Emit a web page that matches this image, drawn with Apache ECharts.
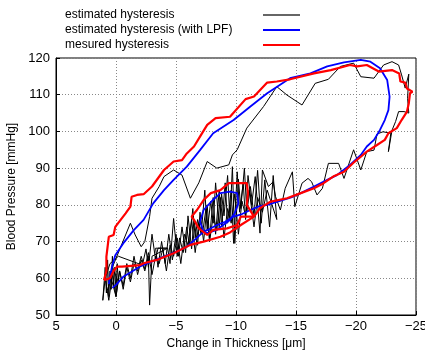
<!DOCTYPE html>
<html><head><meta charset="utf-8">
<script src="https://cdn.jsdelivr.net/npm/echarts@6/dist/echarts.min.js"></script>
<style>html,body{margin:0;padding:0;background:#fff}#c{width:425px;height:350px}</style>
</head><body><div id="c"></div>
<script>
const seriesNames = ['estimated hysteresis', 'estimated hysteresis (with LPF)', 'mesured hysteresis'];
const xTicks = [5, 0, -5, -10, -15, -20, -25];
const yTicks = [50, 60, 70, 80, 90, 100, 110, 120];

const estimated = [
[0.9,60],[1.1,54],[0.9,63],[0.8,56],[0.7,65],[0.6,55],[0.5,62],[0.4,57],[0.3,66],[0.2,58],[0.1,63],[0.0,56],[-0.1,64],[-0.2,59],[0.3,63],
[-1.2,75],[-1.6,71.8],[-2.1,68.6],[-2.4,70],[-2.8,76.8],[-3.0,81.8],[-3.6,85],[-4.0,87.7],[-4.8,89.5],[-5.5,88.1],[-6.2,81.8],[-6.9,86],[-7.6,91.8],[-8.4,90],[-9.4,90.9],[-9.7,93.6],[-10.1,95],[-10.9,100.9],[-12.3,106.8],[-13.4,112.2],[-14.25,109.9],[-15.5,107.2],[-16.6,113.1],[-17.7,114.2],[-18.7,117.7],[-19.8,118.6],[-20.4,114.9],[-21.5,114.5],[-21.9,116.3],[-22.3,118.1],[-23.0,119],[-23.55,118.1],[-23.8,115.4],[-24.1,111.8],[-24.4,115.6],[-24.3,109],[-24.4,105],[-24.0,105.4],[-23.55,105.4],[-23.3,102.7],[-23.0,100.3],[-22.7,94.5],[-22.9,99.5],[-22.25,99.9],[-21.75,99.3],[-21.5,94.9],[-20.9,94.5],[-20.4,89.5],[-19.8,95],[-19.0,87.2],[-18.55,91.3],[-17.7,91.3],[-17.2,84.5],[-16.75,82.7],[-16.3,86.3],[-16.0,87.2],[-15.5,85.9],[-14.9,79.5],[-14.7,89],[-14.1,84.5],[-13.7,78.6],[-13.3,82.2],[-13.1,86.3],[-12.7,85],[-12.2,89.5],[-12.0,72.3],[-11.6,87.7],[-11.3,80],[-11.0,88],[-10.8,76],[-10.6,86],[-10.3,78],[-10.1,89],[-9.8,69.5],[-9.6,84],[-9.3,75],[-9.1,86],[-8.8,74],[-8.6,84],[-8.3,72],[-8.1,82],[-7.8,71],[-7.6,80],[-7.3,70],[-7.0,78],[-6.8,69],[-6.5,76],[-6.3,68],[-6.0,77],[-5.8,67],[-5.5,74],[-5.2,66],[-5.0,72],[-4.7,65],[-4.4,72],[-4.1,64],[-3.8,70],[-3.5,63],[-3.3,68.2],[-4.3,68.2],[-3.0,66],[-2.8,52.7],[-2.7,66],[-2.4,62],[-2.1,65],[-1.8,61],[-1.5,66],[-1.2,60],[-0.9,64],[-0.6,58],[-0.3,62],[0.0,55],[0.3,61],[0.6,54],[0.9,60],
[0.5,64],[-0.2,66],[-2.2,63.6],[-2.5,68],[-2.7,63],[-3.0,72],[-3.3,65],[-3.5,68.2],[-4.3,68.2],[-4.5,64],[-4.8,76.3],[-5.1,66],[-5.3,71],[-5.6,67],[-5.9,74],[-6.1,69],[-6.4,79],[-6.6,71],[-6.8,76],[-7.1,72],[-7.4,84],[-7.6,73],[-7.9,81],[-8.1,75],[-8.3,86],[-8.6,74],[-8.8,83],[-9.0,77],[-9.3,88],[-9.5,76],[-9.7,90.4],[-9.9,69.5],[-10.2,87],[-10.4,79],[-10.7,90],[-10.9,78],[-11.2,85],[-11.5,77],[-11.8,89.4],[-12.1,75],[-12.4,86.8],[-12.8,74],[-13.1,88],[-13.4,76],
[-13.0,80],[-12.6,84],[-12.2,78],[-11.8,82],[-11.5,74],[-11.1,84],[-10.8,77],[-10.5,81],[-10.2,72],[-9.9,83],[-9.6,75],[-9.3,79],[-9.0,71],[-8.7,82],[-8.4,73],[-8.1,77],[-7.8,70],[-7.5,79],[-7.2,72],[-6.9,75],[-6.6,67],[-6.3,76],[-6.0,69],[-5.7,72],[-5.4,64],[-5.1,71],[-4.8,66],[-4.5,69],[-4.2,62],[-3.9,68],[-3.6,64],[-3.3,66],[-3.0,61],[-2.7,67],[-2.4,62.5],[-2.1,66],[-1.8,62],[-1.5,64],[-1.2,59],[-0.9,63],[-0.6,57],[-0.3,62],[0.0,55],[0.4,60],[0.8,56]
];

const lpfMain = [
[0.6,58.4],[0.5,60.4],[0.33,63.2],[0.06,66.3],[-0.6,69.5],[-1.5,73.2],[-2.3,75.9],[-3.1,80.4],[-4.0,84],[-4.8,86.8],[-5.9,90.4],[-7.0,94.9],[-8.1,99.5],[-9.8,103.1],[-11.2,106.8],[-12.6,110.4],[-14.5,114.5],[-16.2,115.8],[-17.6,117.7],[-19.0,118.8],[-20.4,119.5],[-21.2,119],[-22.0,117.2],[-22.6,114],[-22.8,109.5],[-22.7,105.8],[-22.4,103.1],[-22.0,100.4],[-21.5,97.7],[-20.9,95.9],[-20.4,93.6],[-19.5,90.9],[-18.4,88.1],[-17.6,86.8],[-16.5,85],[-15.4,83.2],[-14.6,82],[-14.0,81.4],[-13.2,80.6],[-12.6,80],[-11.9,79.6],[-11.2,78.6],[-10.5,77.5],[-9.8,76.8],[-9.1,75.4],[-8.4,74.5],[-7.8,73.4],[-7.3,72.7],[-6.6,70.6],[-5.9,68.6],[-5.0,67.2],[-4.0,65.9],[-3.0,64.6],[-2.0,63.2],[-1.3,61.8],[-0.6,60.4],[0.0,58.2],[0.3,57.4]
];
const lpfInner = [
[-7.3,72.7],[-7.0,75.4],[-7.3,78.6],[-8.1,81.4],[-8.7,83.2],[-9.5,83.6],[-10.1,83.2],[-10.2,80.4],[-9.9,77.8],[-9.5,75.9],[-8.4,73.2],[-7.6,72.3],[-7.3,72.7]
];

const measuredMain = [
[1.0,59.5],[0.8,62],[0.8,65.9],[0.6,71.3],[0.2,71.8],[0.06,74],[-0.8,77.7],[-1.2,79.5],[-1.3,82.2],[-1.75,82.7],[-2.3,82.9],[-3.0,85],[-4.0,89.5],[-4.8,91.8],[-5.5,92.2],[-5.9,94],[-6.5,95.9],[-7.0,98.6],[-7.6,101.8],[-8.3,103.6],[-9.5,104],[-10.8,108.8],[-11.5,109.5],[-12.6,113.3],[-13.4,113.6],[-14.5,114.2],[-16.5,115.8],[-17.9,116.7],[-19.5,118.1],[-20.1,117.7],[-20.9,118.1],[-21.9,116.3],[-23.0,116.7],[-23.6,115.8],[-23.7,113.6],[-24.1,113.3],[-24.25,111.7],[-24.7,110.8],[-24.5,110.4],[-24.4,107.7],[-24.25,105.4],[-23.8,103.1],[-23.4,100.9],[-22.7,99.5],[-22.4,97.7],[-21.75,96.3],[-20.9,94.5],[-20.4,93.1],[-19.9,91.8],[-19.0,89],[-18.1,87.7],[-17.3,85.9],[-16.5,84.5],[-15.4,83.2],[-14.25,81.8],[-12.9,80.9],[-12.0,79.1],[-11.5,76.8],[-10.4,74.5],[-9.5,72.5],[-8.7,71.3],[-7.3,70],[-6.2,69.1],[-4.8,66.8],[-3.4,65],[-2.3,64.1],[-2.0,63.6],[-0.5,63.2],[-0.1,63.2],[0.2,62],[0.5,60],[1.0,59.5]
];
const measuredInner = [
[-11.5,76.8],[-10.9,80],[-11.0,83.2],[-10.9,85.9],[-9.8,85.9],[-9.4,85.9],[-8.7,84],[-7.9,83.2],[-7.3,81.3],[-6.75,78.6],[-6.3,76.8],[-6.5,75.9],[-6.9,73.6],[-7.6,71.8],[-8.1,73.2],[-9.25,73.6],[-10.1,74.5],[-10.4,76.8],[-11.5,76.8]
];

const chart = echarts.init(document.getElementById('c'), null, {renderer: 'canvas'});
const fmt = v => v < 0 ? '\u2212' + (-v) : String(v);
const font = 'Liberation Sans, Arial, sans-serif';
const gridLine = {show: true, lineStyle: {color: '#888', type: [1, 2], width: 1}};
const mk = (name, data, color, width, z) => ({
  name, type: 'line', data, showSymbol: false, symbol: 'none', z,
  lineStyle: {color, width}, itemStyle: {color}, animation: false
});
chart.setOption({
  animation: false,
  textStyle: {fontFamily: font},
  grid: {left: 56, right: 9, top: 58, bottom: 35, show: true, borderColor: '#000', borderWidth: 1,
    outerBoundsMode: 'none', containLabel: false},
  legend: {
    orient: 'vertical', left: 65, top: 8, padding: 0, itemGap: 1,
    align: 'right', icon: 'rect', itemWidth: 37, itemHeight: 2,
    formatter: n => '{t|' + n + '}',
    textStyle: {fontFamily: font, fontSize: 12, color: '#000', lineHeight: 14,
      rich: {t: {width: 193, align: 'left', fontFamily: font, fontSize: 12, color: '#000', lineHeight: 14}}},
    data: [
      {name: seriesNames[0], itemStyle: {color: '#666'}},
      {name: seriesNames[1], itemStyle: {color: '#0000ff'}},
      {name: seriesNames[2], itemStyle: {color: '#ff0000'}}
    ]
  },
  xAxis: {
    type: 'value', inverse: true,
    min: xTicks[xTicks.length - 1], max: xTicks[0], interval: 5,
    name: 'Change in Thickness [\u03bcm]', nameLocation: 'middle', nameGap: 17,
    nameTextStyle: {fontFamily: font, fontSize: 12, color: '#000'},
    axisLine: {show: true, onZero: false, lineStyle: {color: '#000', width: 1}},
    axisTick: {show: true, inside: true, length: 4, lineStyle: {color: '#000'}},
    axisLabel: {formatter: fmt, fontFamily: font, fontSize: 13, color: '#000', margin: 5},
    splitLine: gridLine
  },
  yAxis: {
    type: 'value', min: yTicks[0], max: yTicks[yTicks.length - 1], interval: 10,
    name: 'Blood Pressure [mmHg]', nameLocation: 'middle', nameGap: 32, nameRotate: 90,
    nameTextStyle: {fontFamily: font, fontSize: 12, color: '#000'},
    axisLine: {show: true, onZero: false, lineStyle: {color: '#000', width: 1}},
    axisTick: {show: true, inside: true, length: 4, lineStyle: {color: '#000'}},
    axisLabel: {fontFamily: font, fontSize: 13, color: '#000', margin: 6},
    splitLine: gridLine
  },
  series: [
    mk(seriesNames[0], estimated, '#000', 1, 2),
    mk(seriesNames[1], lpfMain, '#0000ff', 1.8, 3),
    mk(seriesNames[1], lpfInner, '#0000ff', 1.8, 3),
    mk(seriesNames[2], measuredMain, '#ff0000', 2.2, 4),
    mk(seriesNames[2], measuredInner, '#ff0000', 2.2, 4)
  ]
});
</script></body></html>
